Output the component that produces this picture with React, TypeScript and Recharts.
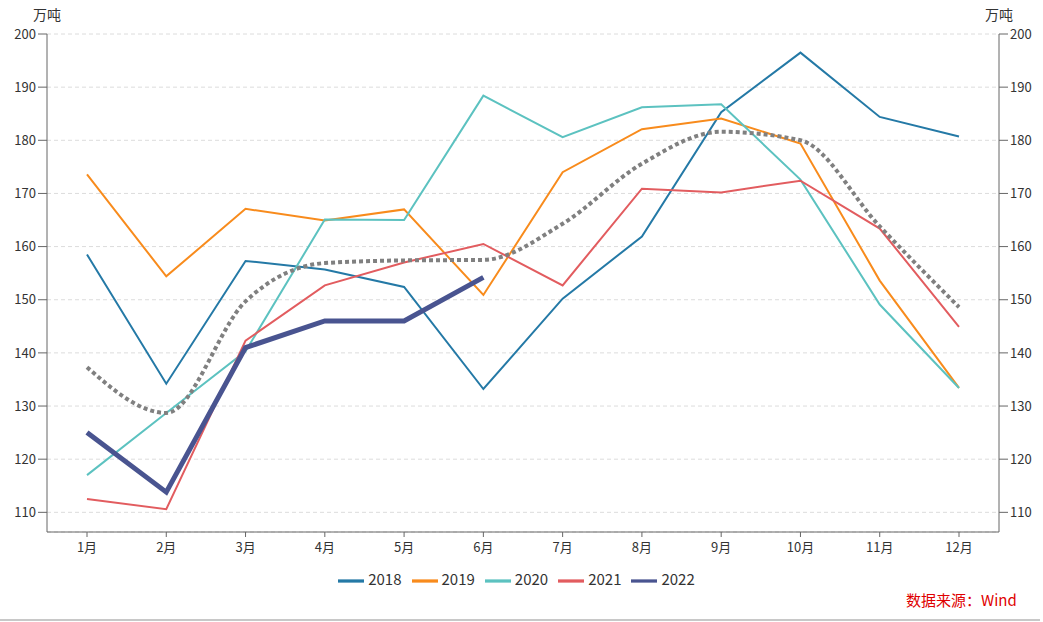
import React from 'react';
import { LineChart, Line, XAxis, YAxis, CartesianGrid, Legend } from 'recharts';

const months = ['1月', '2月', '3月', '4月', '5月', '6月', '7月', '8月', '9月', '10月', '11月', '12月'];

const y2018 = [158.5, 134.2, 157.3, 155.7, 152.4, 133.2, 150.2, 161.9, 185.3, 196.5, 184.4, 180.7];
const y2019 = [173.6, 154.4, 167.1, 164.9, 167.0, 150.9, 174.0, 182.1, 184.1, 179.4, 153.6, 133.4];
const y2020 = [117.0, 128.7, 140.3, 165.1, 165.0, 188.4, 180.6, 186.2, 186.8, 172.6, 149.1, 133.4];
const y2021 = [112.5, 110.6, 142.3, 152.7, 157.0, 160.5, 152.7, 170.9, 170.2, 172.4, 163.4, 144.9];
const y2022 = [125.0, 113.8, 141.0, 146.0, 146.0, 154.2];
// five-year average, dotted grey line (not in legend)
const avg = [137.3, 128.7, 149.7, 156.9, 157.4, 157.5, 164.3, 175.6, 181.6, 180.0, 163.8, 148.6];

const yTicks = [110, 120, 130, 140, 150, 160, 170, 180, 190, 200];

const FONT = '"Noto Sans CJK SC", "Noto Sans", sans-serif';

const data = months.map((m, i) => ({
  month: m,
  '2018': y2018[i],
  '2019': y2019[i],
  '2020': y2020[i],
  '2021': y2021[i],
  '2022': i < y2022.length ? y2022[i] : null,
  avg: avg[i],
}));

const tickStyle = { fill: '#333', fontSize: 13, fontFamily: FONT };

export default function App() {
  return (
    <div
      style={{
        position: 'absolute',
        left: 0,
        top: 0,
        width: 1043,
        height: 622,
        background: '#fff',
        fontFamily: FONT,
      }}
    >
      <span style={{ position: 'absolute', left: 33, top: 4, fontSize: 14, color: '#333' }}>万吨</span>
      <span style={{ position: 'absolute', left: 985, top: 4, fontSize: 14, color: '#333' }}>万吨</span>
      <LineChart width={1043} height={622} data={data} margin={{ top: 34, right: 0, bottom: 60, left: 0 }}>
        <CartesianGrid yAxisId="left" vertical={false} stroke="#dcdcdc" strokeDasharray="4 3" />
        <XAxis
          dataKey="month"
          height={30}
          padding={{ left: 40, right: 40 }}
          tick={tickStyle}
          tickSize={5}
          tickMargin={6}
          stroke="#666"
          interval={0}
        />
        <YAxis
          yAxisId="left"
          width={47}
          domain={[106.3, 200]}
          ticks={yTicks}
          allowDataOverflow
          tick={tickStyle}
          tickSize={9}
          tickMargin={2}
          stroke="#666"
        />
        <YAxis
          yAxisId="right"
          orientation="right"
          width={44}
          domain={[106.3, 200]}
          ticks={yTicks}
          allowDataOverflow
          tick={tickStyle}
          tickSize={9}
          tickMargin={2}
          stroke="#666"
        />
        <Legend
          verticalAlign="middle"
          align="center"
          iconSize={26}
          wrapperStyle={{ top: 568, left: 0, width: 1043, fontSize: 15, fontFamily: FONT }}
          formatter={(value) => <span style={{ color: '#333' }}>{value}</span>}
        />
        <Line yAxisId="left" type="linear" dataKey="2018" stroke="#2479a6" strokeWidth={2} dot={false} legendType="plainline" isAnimationActive={false} />
        <Line yAxisId="left" type="linear" dataKey="2019" stroke="#f88b1c" strokeWidth={2} dot={false} legendType="plainline" isAnimationActive={false} />
        <Line yAxisId="left" type="linear" dataKey="2020" stroke="#5cc2c0" strokeWidth={2} dot={false} legendType="plainline" isAnimationActive={false} />
        <Line yAxisId="left" type="linear" dataKey="2021" stroke="#e25c5f" strokeWidth={2} dot={false} legendType="plainline" isAnimationActive={false} />
        <Line yAxisId="left" type="linear" dataKey="2022" stroke="#495490" strokeWidth={5} dot={false} legendType="plainline" isAnimationActive={false} />
        <Line yAxisId="left" type="monotone" dataKey="avg" stroke="#808080" strokeWidth={4} strokeDasharray="4 3" dot={false} legendType="none" isAnimationActive={false} />
      </LineChart>
      <span style={{ position: 'absolute', left: 906, top: 589, fontSize: 15, color: '#e00000' }}>数据来源：Wind</span>
      <div style={{ position: 'absolute', left: 0, top: 619, width: 1040, height: 2, background: '#c8c8c8' }} />
    </div>
  );
}
